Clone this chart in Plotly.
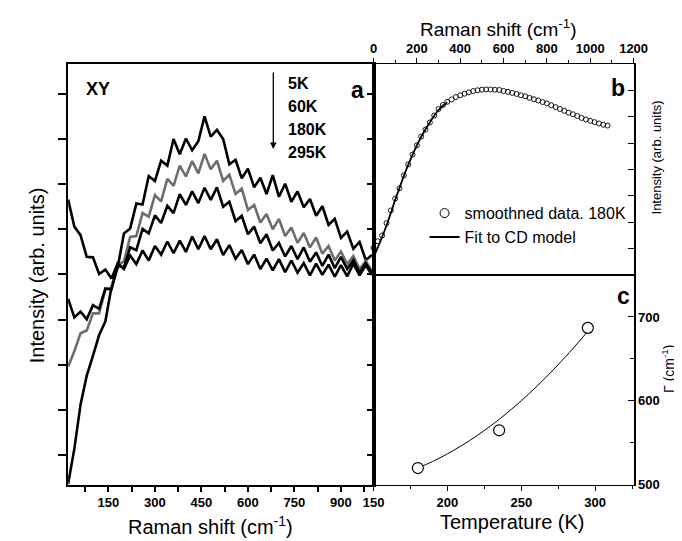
import plotly.graph_objects as go

# ---------------- data ----------------
# panel a : Raman spectra (XY), arbitrary intensity units
shift_a = [20, 40, 60, 80, 100, 120, 140, 160, 180, 200, 220, 240, 260, 280, 300,
           320, 340, 360, 380, 400, 420, 440, 460, 480, 500, 520, 540, 560, 580, 600,
           620, 640, 660, 680, 700, 720, 740, 760, 780, 800, 820, 840, 860, 880, 900,
           920, 940, 960, 980, 1000]
int_5K = [0.37, 1.14, 2.12, 2.76, 3.20, 3.66, 3.96, 4.73, 5.16, 5.91, 6.02, 6.57, 6.55, 7.18, 7.07,
          7.52, 7.41, 8.00, 7.66, 8.01, 7.75, 7.95, 8.50, 8.05, 8.20, 8.00, 7.44, 7.54, 7.13, 7.34,
          6.93, 7.14, 6.78, 7.20, 6.72, 7.01, 6.61, 6.84, 6.49, 6.67, 6.30, 6.51, 6.10, 6.23, 5.81,
          5.95, 5.57, 5.72, 5.32, 5.43]
int_60K = [2.96, 3.30, 3.70, 3.76, 4.14, 4.14, 4.66, 4.71, 5.21, 5.29, 5.83, 5.85, 6.36, 6.28, 6.76,
           6.62, 7.12, 6.96, 7.41, 7.17, 7.51, 7.24, 7.67, 7.33, 7.52, 7.07, 7.21, 6.78, 6.90, 6.43,
           6.54, 6.15, 6.34, 6.00, 6.23, 5.85, 6.04, 5.70, 5.92, 5.60, 5.82, 5.46, 5.63, 5.31, 5.51,
           5.23, 5.41, 5.12, 5.30, 5.07]
int_180K = [4.46, 4.05, 4.18, 4.01, 4.32, 4.24, 4.69, 4.67, 5.19, 5.16, 5.60, 5.54, 6.01, 5.91, 6.31,
            6.14, 6.52, 6.36, 6.78, 6.54, 6.84, 6.58, 6.92, 6.65, 6.93, 6.50, 6.61, 6.18, 6.30, 5.89,
            6.06, 5.69, 5.89, 5.53, 5.70, 5.40, 5.63, 5.34, 5.60, 5.28, 5.49, 5.19, 5.44, 5.14, 5.39,
            5.12, 5.32, 5.04, 5.25, 5.04]
int_295K = [6.66, 6.06, 5.87, 5.39, 5.38, 5.01, 5.11, 4.91, 5.25, 5.12, 5.42, 5.23, 5.53, 5.31, 5.63,
            5.44, 5.73, 5.47, 5.75, 5.50, 5.84, 5.56, 5.85, 5.56, 5.78, 5.43, 5.65, 5.35, 5.54, 5.23,
            5.44, 5.12, 5.35, 5.09, 5.34, 5.05, 5.31, 5.04, 5.25, 4.98, 5.24, 4.99, 5.22, 4.95, 5.21,
            4.96, 5.24, 4.98, 5.21, 4.99]
temp_labels = ["5K", "60K", "180K", "295K"]

# panel b : smoothed 180K data and CD-model fit
smooth_shift = [0, 20, 40, 60, 80, 100, 120, 140, 160, 180, 200, 220, 240, 260, 280, 300,
                320, 340, 360, 380, 400, 420, 440, 460, 480, 500, 520, 540, 560, 580, 600,
                620, 640, 660, 680, 700, 720, 740, 760, 780, 800, 820, 840, 860, 880, 900,
                920, 940, 960, 980, 1000, 1020, 1040, 1060, 1080]
smooth_int = [1.03, 1.28, 1.50, 1.97, 2.45, 2.90, 3.29, 3.78, 4.20, 4.57, 4.92, 5.25, 5.52, 5.79,
              6.05, 6.30, 6.45, 6.57, 6.66, 6.75, 6.82, 6.88, 6.93, 6.98, 7.01, 7.03, 7.04, 7.04,
              7.03, 7.02, 6.98, 6.95, 6.91, 6.87, 6.82, 6.78, 6.72, 6.67, 6.62, 6.56, 6.51, 6.44,
              6.37, 6.30, 6.23, 6.16, 6.10, 6.03, 5.96, 5.90, 5.85, 5.80, 5.75, 5.70, 5.67]
fit_shift = [0, 20, 40, 60, 80, 100, 120, 140, 160, 180, 200, 220, 240, 260, 280, 300, 320, 340]
fit_int = [0.67, 1.05, 1.45, 1.88, 2.35, 2.85, 3.30, 3.76, 4.18, 4.56, 4.92, 5.24, 5.53, 5.80,
           6.04, 6.26, 6.42, 6.55]

# panel c : Gamma vs temperature
temp_pts = [180, 235, 295]
gamma_pts = [520, 565, 687]
temp_fit = [180, 190, 200, 210, 220, 230, 240, 250, 260, 270, 280, 290, 295]
gamma_fit = [520, 527.8, 536.9, 547.1, 558.6, 571.2, 585.1, 600.2, 616.5, 634.0, 652.7, 672.6, 683.0]

# ---------------- layout helpers ----------------
W, H = 682, 541
FONT = "Liberation Sans, Arial, Helvetica, sans-serif"


def fx(p):
    return p / W


def fy(p):
    return 1 - p / H


fig = go.Figure()

colors = ["black", "#6e6e6e", "black", "black"]
series = [int_5K, int_60K, int_180K, int_295K]
for name, vals, col in zip(temp_labels, series, colors):
    fig.add_trace(go.Scatter(x=shift_a, y=vals, mode="lines", name=name,
                             line=dict(color=col, width=2.6), xaxis="x", yaxis="y",
                             showlegend=False, hoverinfo="skip"))
# dummy trace to activate right-side tick axis of panel a
fig.add_trace(go.Scatter(x=[None], y=[None], xaxis="x", yaxis="y4", showlegend=False,
                         hoverinfo="skip"))

# panel b
fig.add_trace(go.Scatter(x=fit_shift, y=fit_int, mode="lines", line=dict(color="black", width=1.8),
                         xaxis="x2", yaxis="y2", showlegend=False, line_shape="spline"))
fig.add_trace(go.Scatter(x=smooth_shift, y=smooth_int, mode="markers",
                         marker=dict(symbol="circle-open", size=5, color="black",
                                     line=dict(width=0.9, color="black")),
                         xaxis="x2", yaxis="y2", showlegend=False, cliponaxis=False))
fig.add_trace(go.Scatter(x=[None], y=[None], mode="markers", name="smoothned data. 180K",
                         marker=dict(symbol="circle-open", size=9, color="black",
                                     line=dict(width=1, color="black")),
                         xaxis="x2", yaxis="y2"))
fig.add_trace(go.Scatter(x=[None], y=[None], mode="lines", name="Fit to CD model",
                         line=dict(color="black", width=2), xaxis="x2", yaxis="y2"))

# panel c
fig.add_trace(go.Scatter(x=temp_fit, y=gamma_fit, mode="lines", line=dict(color="black", width=1),
                         line_shape="spline", xaxis="x3", yaxis="y3", showlegend=False))
fig.add_trace(go.Scatter(x=temp_pts, y=gamma_pts, mode="markers",
                         marker=dict(symbol="circle", size=11, color="white",
                                     line=dict(width=1.2, color="black")),
                         xaxis="x3", yaxis="y3", showlegend=False, cliponaxis=False))

tickfont = dict(family=FONT, size=13, color="black", weight="bold")
common = dict(showgrid=False, zeroline=False, showline=True, linecolor="black", mirror=True,
              tickcolor="black")

fig.update_layout(
    width=W, height=H, margin=dict(l=0, r=0, t=0, b=0),
    paper_bgcolor="white", plot_bgcolor="white",
    font=dict(family=FONT, color="black"),
    xaxis=dict(domain=[fx(51), fx(368)], range=[20, 1005], anchor="y",
               tickmode="linear", tick0=0, dtick=150, ticks="outside", ticklen=5, tickwidth=1.5,
               minor=dict(tick0=0, dtick=75, ticks="outside", ticklen=5, tickwidth=1.5,
                          tickcolor="black"),
               tickfont=tickfont, linewidth=2, **common),
    yaxis=dict(domain=[fy(484), fy(57)], range=[0.344, 9.656], anchor="x",
               tickmode="linear", tick0=0, dtick=1, ticks="outside", ticklen=8, tickwidth=1.5,
               showticklabels=False, linewidth=2, **common),
    yaxis4=dict(overlaying="y", side="right", anchor="x", range=[0.344, 9.656],
                tickmode="linear", tick0=0, dtick=1, ticks="inside", ticklen=7, tickwidth=1.5,
                tickcolor="black", showticklabels=False, showline=False, showgrid=False,
                zeroline=False),
    xaxis2=dict(domain=[fx(368), fx(638)], range=[0, 1200], anchor="y2", side="top",
                tickmode="linear", tick0=0, dtick=200, ticks="outside", ticklen=5, tickwidth=1.2,
                minor=dict(dtick=100, ticks="outside", ticklen=3, tickwidth=1, tickcolor="black"),
                tickfont=tickfont, linewidth=1.3, **common),
    yaxis2=dict(domain=[fy(271), fy(57)], range=[0, 8], anchor="x2", side="right",
                tickmode="linear", tick0=0, dtick=1, ticks="inside", ticklen=6, tickwidth=1.2,
                showticklabels=False, linewidth=1.5, **common),
    xaxis3=dict(domain=[fx(368), fx(638)], range=[150, 326], anchor="y3",
                tickmode="linear", tick0=150, dtick=50, ticks="outside", ticklen=5, tickwidth=1.2,
                minor=dict(dtick=25, tick0=150, ticks="outside", ticklen=3, tickwidth=1,
                           tickcolor="black"),
                tickfont=tickfont, linewidth=1.3, **common),
    yaxis3=dict(domain=[fy(484), fy(271)], range=[500, 750], anchor="x3", side="right",
                tickmode="linear", tick0=500, dtick=100, ticks="inside", ticklen=6, tickwidth=1.2,
                minor=dict(dtick=50, tick0=500, ticks="inside", ticklen=4, tickwidth=1,
                           tickcolor="black"),
                tickfont=tickfont, linewidth=1.5, **common),
    legend=dict(x=fx(421), y=fy(191), xanchor="left", yanchor="top",
                bgcolor="rgba(0,0,0,0)", font=dict(family=FONT, size=16, color="black"),
                tracegroupgap=0, itemwidth=30),
)

ann = []


def txt(text, x, y, size, bold=False, angle=0, xanchor="center", family=FONT):
    ann.append(dict(text=text, x=fx(x), y=fy(y), xref="paper", yref="paper",
                    showarrow=False, textangle=angle, xanchor=xanchor, yanchor="middle",
                    font=dict(family=family, size=size, color="black",
                              weight="bold" if bold else "normal")))


# axis titles
txt("Intensity (arb. units)", 19, 271, 20, angle=-90)
txt("Raman shift (cm<sup>-1</sup>)", 199, 525, 20)
txt("Raman shift (cm<sup>-1</sup>)", 497, 20, 19)
txt("Temperature (K)", 512, 522, 20)
txt("Intensity (arb. units)", 662, 152, 13, angle=-90)
txt("Γ (cm<sup>-1</sup>)", 673, 366, 14, angle=-90)

# panel labels and temperature list
txt("XY", 82, 82, 18, bold=True)
txt("a", 351, 83, 23, bold=True)
txt("b", 622, 81, 23, bold=True)
txt("c", 628, 292, 23, bold=True)
for lab, yy in zip(temp_labels, [77, 100, 123, 147]):
    txt(lab, 277, yy, 16, bold=True, xanchor="left")

# downward arrow
ann.append(dict(x=fx(264), y=fy(143), xref="paper", yref="paper", ax=0, ay=-78,
                axref="pixel", ayref="pixel", showarrow=True, arrowhead=2, arrowsize=1,
                arrowwidth=1.3, arrowcolor="black", text=""))

fig.update_layout(annotations=ann)

fig.write_html("out.html")
